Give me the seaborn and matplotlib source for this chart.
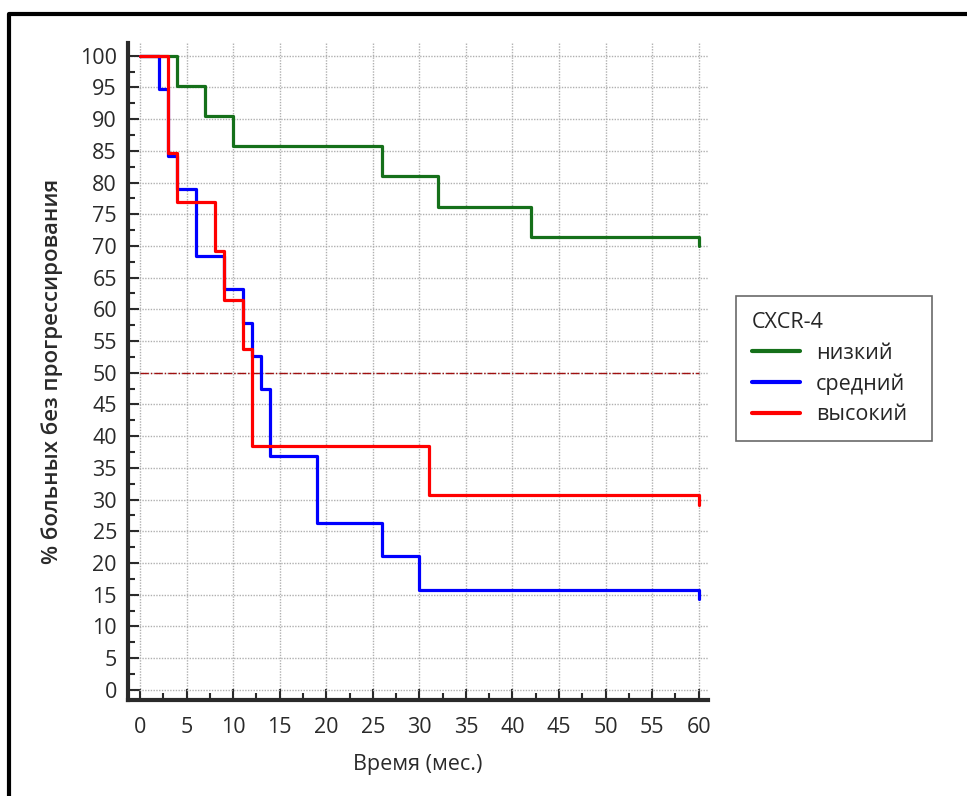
import matplotlib
matplotlib.use("Agg")
import matplotlib.pyplot as plt
from matplotlib.lines import Line2D
from matplotlib.ticker import MultipleLocator
import seaborn as sns
import pandas as pd

# ---- data ----
groups = ["низкий", "средний", "высокий"]
low_t = [0, 4, 7, 10, 26, 32, 42, 60]
low_s = [100, 95.2, 90.5, 85.7, 81.0, 76.2, 71.4, 70.0]
mid_t = [0, 2, 3, 4, 6, 9, 11, 12, 13, 14, 19, 26, 30, 60]
mid_s = [100, 94.7, 84.2, 78.9, 68.4, 63.2, 57.9, 52.6, 47.4, 36.8, 26.3, 21.1, 15.8, 14.3]
high_t = [0, 3, 4, 8, 9, 11, 12, 31, 60]
high_s = [100, 84.6, 76.9, 69.2, 61.5, 53.8, 38.5, 30.8, 29.2]
median_level = 50
x_ticks = list(range(0, 61, 5))
y_ticks = list(range(0, 101, 5))

frames = []
for g, t, s in zip(groups, [low_t, mid_t, high_t], [low_s, mid_s, high_s]):
    frames.append(pd.DataFrame({"t": t, "s": s, "g": g}))
df = pd.concat(frames, ignore_index=True)

sns.set_theme(style="white")
plt.rcParams["font.family"] = ["Open Sans", "DejaVu Sans"]

fig = plt.figure(figsize=(9.67, 7.96), dpi=100)
ax = fig.add_axes([128 / 967, 1 - 700 / 796, (708 - 128) / 967, (700 - 43) / 796])

palette = {"низкий": "#15701a", "средний": "#0000ff", "высокий": "#ff0000"}
sns.lineplot(data=df, x="t", y="s", hue="g", hue_order=groups, palette=palette,
             estimator=None, sort=False, drawstyle="steps-post", linewidth=2.3,
             ax=ax, legend=True, zorder=3)

ax.plot([0, 60], [median_level, median_level], color="#a01010", lw=1.0,
        ls=(0, (6, 1.5, 1, 1.5)), zorder=2)

ax.set_xlim(-1.3, 61)
ax.set_ylim(-1.6, 102)
ax.set_xticks(x_ticks)
ax.set_yticks(y_ticks)
ax.xaxis.set_minor_locator(MultipleLocator(2.5))
ax.yaxis.set_minor_locator(MultipleLocator(2.5))
ax.grid(True, which="major", color="#b0b0b0", ls=(0, (1, 1)), lw=1.0, zorder=0)
ax.set_axisbelow(True)

for side in ["top", "right"]:
    ax.spines[side].set_visible(False)
for side in ["left", "bottom"]:
    ax.spines[side].set_color("#2a2a2a")
    ax.spines[side].set_linewidth(3)

ax.tick_params(axis="both", which="major", direction="in", length=8, width=1.5,
               color="#2a2a2a", labelsize=15.5, labelcolor="#2a2a2a",
               left=True, bottom=True)
ax.tick_params(axis="both", which="minor", direction="in", length=5, width=1.5,
               color="#2a2a2a", left=True, bottom=True)
ax.tick_params(axis="x", pad=12)
ax.tick_params(axis="y", pad=8)

ax.set_xlabel("Время (мес.)", fontsize=15.5, color="#2a2a2a", labelpad=12)
ax.set_ylabel("% больных без прогрессирования", fontsize=16, color="#2a2a2a",
              fontweight="semibold", labelpad=12)

handles, labels = ax.get_legend_handles_labels()
leg = ax.legend(handles=handles, labels=labels, title="CXCR-4", loc="upper left",
                bbox_to_anchor=(736 / 967, 1 - 438 / 796, 196 / 967, 142 / 796),
                bbox_transform=fig.transFigure, mode="expand", borderaxespad=0,
                frameon=True, fancybox=False, edgecolor="#444444", fontsize=15.5,
                title_fontsize=15.5, alignment="left", handlelength=2.2,
                borderpad=0.75, labelspacing=0.44, handletextpad=0.75)
leg.get_frame().set_linewidth(1.2)
for h in leg.get_lines():
    h.set_linewidth(3)

# outer frame
fig.add_artist(Line2D([9 / 967, 9 / 967, 1.0], [0.0, 1 - 14 / 796, 1 - 14 / 796],
                      transform=fig.transFigure, color="black", lw=3))

fig.savefig("out.png", dpi=100)
